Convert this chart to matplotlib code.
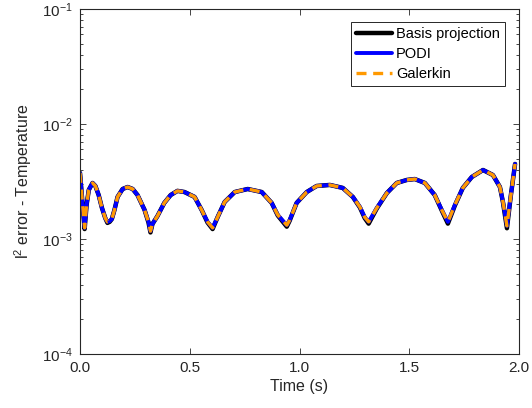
import matplotlib
matplotlib.use("Agg")
import matplotlib.pyplot as plt
from matplotlib.ticker import LogLocator, FixedLocator, FormatStrFormatter, NullFormatter

plt.rcParams['font.family'] = ['Liberation Sans', 'DejaVu Sans']
plt.rcParams['mathtext.fontset'] = 'custom'
plt.rcParams['mathtext.rm'] = 'Liberation Sans'
plt.rcParams['mathtext.it'] = 'Liberation Sans'
plt.rcParams['mathtext.default'] = 'regular'

# ---- data ----
time = [0.000, 0.010, 0.021, 0.030, 0.040, 0.057, 0.070, 0.085, 0.100, 0.115,
        0.125, 0.135, 0.145, 0.157, 0.171, 0.194, 0.217, 0.240, 0.262, 0.294,
        0.312, 0.321, 0.330, 0.353, 0.384, 0.413, 0.444, 0.476, 0.522, 0.554,
        0.581, 0.604, 0.627, 0.659, 0.705, 0.764, 0.828, 0.873, 0.901, 0.942,
        0.955, 0.987, 1.033, 1.078, 1.138, 1.197, 1.243, 1.275, 1.297, 1.315,
        1.352, 1.398, 1.443, 1.489, 1.525, 1.571, 1.616, 1.648, 1.676, 1.708,
        1.744, 1.785, 1.836, 1.881, 1.913, 1.927, 1.945, 1.963, 1.982]

podi_err = [3.75e-3, 2.18e-3, 1.25e-3, 1.98e-3, 2.67e-3, 3.07e-3, 2.89e-3, 2.41e-3, 1.86e-3, 1.52e-3,
            1.41e-3, 1.43e-3, 1.49e-3, 1.79e-3, 2.32e-3, 2.72e-3, 2.83e-3, 2.72e-3, 2.41e-3, 1.79e-3,
            1.41e-3, 1.17e-3, 1.35e-3, 1.585e-3, 2.06e-3, 2.41e-3, 2.62e-3, 2.56e-3, 2.32e-3, 1.79e-3,
            1.41e-3, 1.25e-3, 1.55e-3, 2.10e-3, 2.56e-3, 2.72e-3, 2.56e-3, 2.06e-3, 1.62e-3, 1.32e-3,
            1.46e-3, 2.06e-3, 2.56e-3, 2.89e-3, 2.95e-3, 2.78e-3, 2.32e-3, 1.90e-3, 1.55e-3, 1.41e-3,
            1.86e-3, 2.51e-3, 3.07e-3, 3.26e-3, 3.32e-3, 3.07e-3, 2.41e-3, 1.79e-3, 1.41e-3, 1.98e-3,
            2.78e-3, 3.46e-3, 3.98e-3, 3.60e-3, 2.83e-3, 2.10e-3, 1.30e-3, 2.41e-3, 4.49e-3]

galerkin_err = list(podi_err)

basis_err = [3.75e-3, 2.18e-3, 1.22e-3, 1.98e-3, 2.67e-3, 3.07e-3, 2.89e-3, 2.41e-3, 1.86e-3, 1.52e-3,
             1.38e-3, 1.41e-3, 1.49e-3, 1.79e-3, 2.32e-3, 2.72e-3, 2.83e-3, 2.72e-3, 2.41e-3, 1.79e-3,
             1.39e-3, 1.14e-3, 1.35e-3, 1.585e-3, 2.06e-3, 2.41e-3, 2.62e-3, 2.56e-3, 2.32e-3, 1.79e-3,
             1.39e-3, 1.22e-3, 1.55e-3, 2.10e-3, 2.56e-3, 2.72e-3, 2.56e-3, 2.06e-3, 1.60e-3, 1.28e-3,
             1.44e-3, 2.06e-3, 2.56e-3, 2.89e-3, 2.95e-3, 2.78e-3, 2.32e-3, 1.88e-3, 1.52e-3, 1.36e-3,
             1.84e-3, 2.51e-3, 3.07e-3, 3.26e-3, 3.32e-3, 3.07e-3, 2.41e-3, 1.77e-3, 1.36e-3, 1.96e-3,
             2.78e-3, 3.46e-3, 3.98e-3, 3.60e-3, 2.83e-3, 2.08e-3, 1.24e-3, 2.41e-3, 4.49e-3]

x_ticks = [0.0, 0.5, 1.0, 1.5, 2.0]
series_labels = ['Basis projection', 'PODI', 'Galerkin']

# ---- figure ----
fig = plt.figure(figsize=(5.32, 4.08), dpi=100)
ax = fig.add_axes([0.1504, 0.1324, 0.8252, 0.8456])

ax.plot(time, basis_err, color='black', lw=3.2, label=series_labels[0],
        solid_joinstyle='round', solid_capstyle='round')
ax.plot(time, podi_err, color=(0, 0, 1), lw=2.8, label=series_labels[1],
        solid_joinstyle='round', solid_capstyle='round')
ax.plot(time, galerkin_err, color=(1.0, 0.6, 0.0), lw=2.4, dashes=(3.0, 2.0),
        label=series_labels[2])

ax.set_yscale('log')
ax.set_xlim(0, 2.0)
ax.set_ylim(1e-4, 1e-1)
ax.xaxis.set_major_locator(FixedLocator(x_ticks))
ax.xaxis.set_major_formatter(FormatStrFormatter('%.1f'))
ax.yaxis.set_major_locator(LogLocator(base=10))
ax.yaxis.set_minor_locator(LogLocator(base=10, subs=range(2, 10)))
ax.yaxis.set_minor_formatter(NullFormatter())

axcol = (0.15, 0.15, 0.15)
for s in ax.spines.values():
    s.set_color(axcol)
    s.set_linewidth(0.8)
ax.tick_params(which='both', direction='in', top=True, right=True, colors=axcol,
               labelcolor=(0.15, 0.15, 0.15), labelsize=11, width=0.6)
ax.tick_params(which='major', length=4.5, pad=5)
ax.tick_params(which='minor', length=2.5)

ax.set_xlabel('Time (s)', fontsize=11.5, color=(0.15, 0.15, 0.15), labelpad=3)
ax.set_ylabel('l$^2$ error - Temperature', fontsize=11.5, color=(0.15, 0.15, 0.15), labelpad=6)

leg = ax.legend(loc='upper right', bbox_to_anchor=(0.968, 0.962), fontsize=10.5,
                frameon=True, fancybox=False, framealpha=1, edgecolor=axcol,
                handlelength=2.5, handletextpad=0.25, borderpad=0.35, labelspacing=0.4,
                borderaxespad=0.0)
leg.get_frame().set_linewidth(0.7)

fig.savefig('out.png', dpi=100)
